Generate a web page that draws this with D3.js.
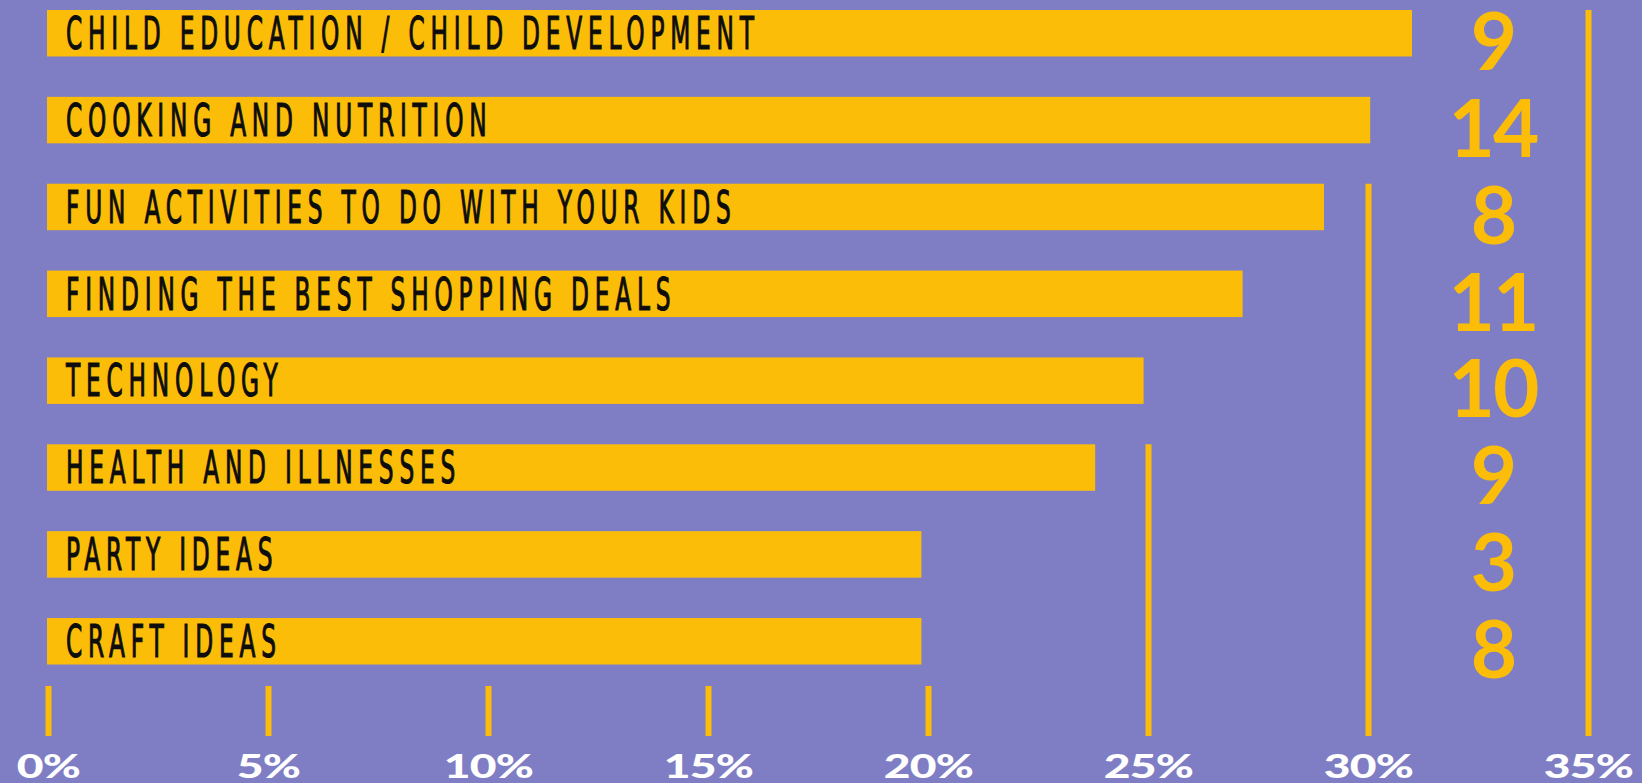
<!DOCTYPE html>
<html>
<head>
<meta charset="utf-8">
<script src="https://cdn.jsdelivr.net/npm/d3@7"></script>
<style>
  html, body { margin: 0; padding: 0; background: #7f7ec4; }
  svg { display: block; }
</style>
</head>
<body>
<svg id="chart" width="1642" height="783"></svg>
<script>
// Topics parents want to read about: share of respondents, plus number of articles
const topics = [
  "CHILD EDUCATION / CHILD DEVELOPMENT",
  "COOKING AND NUTRITION",
  "FUN ACTIVITIES TO DO WITH YOUR KIDS",
  "FINDING THE BEST SHOPPING DEALS",
  "TECHNOLOGY",
  "HEALTH AND ILLNESSES",
  "PARTY IDEAS",
  "CRAFT IDEAS"
];
const shares = [31.0, 30.05, 29.0, 27.15, 24.9, 23.8, 19.85, 19.85];
const counts = [9, 14, 8, 11, 10, 9, 3, 8];
const tickValues = [0, 5, 10, 15, 20, 25, 30, 35];

const W = 1642, H = 783;
const BG = "#7f7ec4", GOLD = "#fbbd08";

const svg = d3.select("#chart");
svg.append("rect").attr("width", W).attr("height", H).attr("fill", BG);

const x = d3.scaleLinear().domain([0, 35]).range([48, 1588]);
const y = d3.scaleBand().domain(topics).range([10, 664.5])
  .paddingInner(0.465).paddingOuter(0);

const tickTop = 686, tickBottom = 736;

// Gridlines: each tick rises to the top of the first bar that stops well short of it
function gridTop(t) {
  const i = shares.findIndex(v => v < t - 0.5);
  return i < 0 ? tickTop : y(topics[i]);
}

// Axis with gold tick marks and wide bold white percentage labels
const axis = d3.axisBottom(x)
  .tickValues(tickValues)
  .tickFormat(d => d + "%")
  .tickSize(0)
  .tickPadding(0);

const gAxis = svg.append("g")
  .attr("transform", `translate(0,${tickBottom})`)
  .call(axis);
gAxis.select(".domain").remove();
gAxis.selectAll(".tick text")
  .attr("y", null)
  .attr("dy", null)
  .attr("transform", "translate(0,42) scale(1.42,1)")
  .attr("fill", "#ffffff")
  .style("font-family", "Lato, 'Noto Sans', sans-serif")
  .style("font-weight", 900)
  .style("font-size", "32.5px")
  .style("letter-spacing", "-0.5px");
gAxis.selectAll(".tick").append("line")
  .attr("x1", 0).attr("x2", 0)
  .attr("y1", d => gridTop(d) - tickBottom)
  .attr("y2", 0)
  .attr("stroke", GOLD)
  .attr("stroke-width", 6);

// Bars
svg.append("g").selectAll("rect")
  .data(topics)
  .join("rect")
  .attr("x", x(0) - 1)
  .attr("y", d => y(d))
  .attr("width", (d, i) => x(shares[i]) - x(0) + 1)
  .attr("height", y.bandwidth())
  .attr("fill", GOLD);

// Topic labels inside the bars, narrow and letter-spaced
const sx = 0.58;
svg.append("g").selectAll("text")
  .data(topics)
  .join("text")
  .attr("transform", d => `translate(66,${y(d) + 39}) scale(${sx},1)`)
  .attr("fill", "#0d0d0d")
  .attr("stroke", "#0d0d0d")
  .attr("stroke-width", 1.1)
  .style("font-family", "'DejaVu Sans Condensed', 'DejaVu Sans', sans-serif")
  .style("font-weight", 400)
  .style("font-size", "44.6px")
  .style("letter-spacing", "10px")
  .text(d => d);

// Article counts column
svg.append("g").selectAll("text")
  .data(topics)
  .join("text")
  .attr("x", 1493)
  .attr("y", d => y(d) + 60)
  .attr("text-anchor", "middle")
  .attr("fill", GOLD)
  .style("font-family", "Lato, 'Noto Sans', sans-serif")
  .style("font-weight", 700)
  .style("font-size", "80px")
  .style("letter-spacing", "-2px")
  .text((d, i) => counts[i]);
</script>
</body>
</html>
